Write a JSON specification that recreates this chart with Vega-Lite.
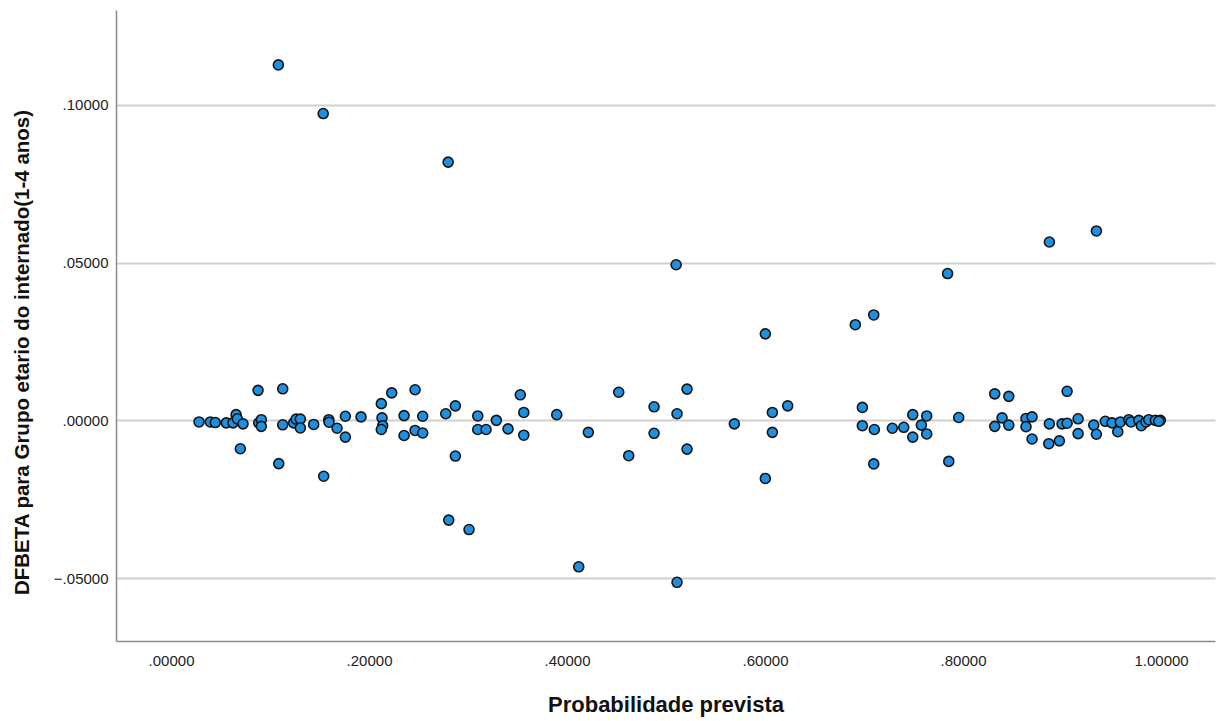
{
  "$schema": "https://vega.github.io/schema/vega-lite/v6.json",
  "width": 1099,
  "height": 631,
  "autosize": "none",
  "padding": {"left": 116, "top": 10, "right": 2, "bottom": 80},
  "background": "white",
  "config": {
    "view": {"stroke": null},
    "font": "Liberation Sans"
  },
  "data": {
    "values": [
      {"p": 0.0283, "d": -0.0005}, {"p": 0.0397, "d": -0.0005}, {"p": 0.0447, "d": -0.0007},
      {"p": 0.0558, "d": -0.0008}, {"p": 0.0626, "d": -0.0008}, {"p": 0.0657, "d": 0.0018},
      {"p": 0.067, "d": 0.0005}, {"p": 0.0727, "d": -0.0011}, {"p": 0.070, "d": -0.0090},
      {"p": 0.0879, "d": 0.0095}, {"p": 0.0886, "d": -0.0008}, {"p": 0.0912, "d": 0.0002},
      {"p": 0.0912, "d": -0.0019}, {"p": 0.1128, "d": 0.0100}, {"p": 0.1128, "d": -0.0014},
      {"p": 0.1088, "d": -0.0137}, {"p": 0.1239, "d": -0.0008}, {"p": 0.1263, "d": 0.0004},
      {"p": 0.1306, "d": 0.0004}, {"p": 0.1306, "d": -0.0024}, {"p": 0.1441, "d": -0.0013},
      {"p": 0.1542, "d": -0.0177}, {"p": 0.1593, "d": 0.0002}, {"p": 0.1596, "d": -0.0006},
      {"p": 0.1677, "d": -0.0025}, {"p": 0.1761, "d": 0.0013}, {"p": 0.1761, "d": -0.0053},
      {"p": 0.1919, "d": 0.0011}, {"p": 0.2124, "d": 0.0053}, {"p": 0.2131, "d": 0.0008},
      {"p": 0.2138, "d": -0.0017}, {"p": 0.2124, "d": -0.0029}, {"p": 0.2229, "d": 0.0087},
      {"p": 0.2354, "d": 0.0015}, {"p": 0.2465, "d": 0.0097}, {"p": 0.2542, "d": 0.0013},
      {"p": 0.2354, "d": -0.0048}, {"p": 0.2465, "d": -0.0032}, {"p": 0.2542, "d": -0.0040},
      {"p": 0.2775, "d": 0.0021}, {"p": 0.2872, "d": 0.0046}, {"p": 0.2872, "d": -0.0113},
      {"p": 0.2805, "d": -0.0316}, {"p": 0.3010, "d": -0.0346}, {"p": 0.3098, "d": 0.0014},
      {"p": 0.3098, "d": -0.0029}, {"p": 0.3182, "d": -0.0029}, {"p": 0.3286, "d": 0.0000},
      {"p": 0.3404, "d": -0.0027}, {"p": 0.3528, "d": 0.0081}, {"p": 0.3563, "d": 0.0025},
      {"p": 0.3563, "d": -0.0047}, {"p": 0.3896, "d": 0.0018}, {"p": 0.4215, "d": -0.0038},
      {"p": 0.4118, "d": -0.0464}, {"p": 0.4522, "d": 0.0089}, {"p": 0.4623, "d": -0.0112},
      {"p": 0.4879, "d": 0.0043}, {"p": 0.4879, "d": -0.0041},
      {"p": 0.1084, "d": 0.1126}, {"p": 0.1537, "d": 0.0972}, {"p": 0.2799, "d": 0.0818},
      {"p": 0.5102, "d": 0.0493}, {"p": 0.7844, "d": 0.0465}, {"p": 0.8872, "d": 0.0565},
      {"p": 0.9347, "d": 0.0600},
      {"p": 0.5111, "d": 0.0021}, {"p": 0.5212, "d": 0.0099}, {"p": 0.5212, "d": -0.0091},
      {"p": 0.5111, "d": -0.0513}, {"p": 0.5690, "d": -0.0011}, {"p": 0.6003, "d": 0.0274},
      {"p": 0.6003, "d": -0.0184}, {"p": 0.6074, "d": 0.0025}, {"p": 0.6074, "d": -0.0038},
      {"p": 0.6229, "d": 0.0046}, {"p": 0.6912, "d": 0.0303}, {"p": 0.7098, "d": 0.0334},
      {"p": 0.6983, "d": 0.0041}, {"p": 0.6983, "d": -0.0017}, {"p": 0.7104, "d": -0.0029},
      {"p": 0.7098, "d": -0.0138}, {"p": 0.7286, "d": -0.0025}, {"p": 0.7401, "d": -0.0022},
      {"p": 0.7492, "d": 0.0018}, {"p": 0.7492, "d": -0.0053}, {"p": 0.7579, "d": -0.0015},
      {"p": 0.7633, "d": 0.0014}, {"p": 0.7633, "d": -0.0043},
      {"p": 0.7856, "d": -0.0130}, {"p": 0.7956, "d": 0.0009}, {"p": 0.8320, "d": 0.0084},
      {"p": 0.8462, "d": 0.0076}, {"p": 0.8394, "d": 0.0008}, {"p": 0.8320, "d": -0.0019},
      {"p": 0.8462, "d": -0.0015}, {"p": 0.8636, "d": 0.0006}, {"p": 0.8697, "d": 0.0011},
      {"p": 0.8636, "d": -0.0020}, {"p": 0.8697, "d": -0.0059}, {"p": 0.9051, "d": 0.0092},
      {"p": 0.8872, "d": -0.0011}, {"p": 0.9000, "d": -0.0011}, {"p": 0.9051, "d": -0.0009},
      {"p": 0.8866, "d": -0.0074}, {"p": 0.8973, "d": -0.0065}, {"p": 0.9162, "d": 0.0005},
      {"p": 0.9162, "d": -0.0042}, {"p": 0.9320, "d": -0.0015}, {"p": 0.9347, "d": -0.0044},
      {"p": 0.9437, "d": -0.0003}, {"p": 0.9505, "d": -0.0008}, {"p": 0.9563, "d": -0.0036},
      {"p": 0.9589, "d": -0.0005}, {"p": 0.9674, "d": 0.0002}, {"p": 0.9697, "d": -0.0005},
      {"p": 0.9775, "d": 0.0000}, {"p": 0.9801, "d": -0.0017}, {"p": 0.9848, "d": -0.0005},
      {"p": 0.9876, "d": 0.0002}, {"p": 0.9942, "d": 0.0000}, {"p": 0.9993, "d": 0.0000},
      {"p": 0.9977, "d": -0.0003}
    ]
  },
  "mark": {
    "type": "point",
    "shape": "circle",
    "filled": true,
    "fill": "#1e90e2",
    "stroke": "#141414",
    "strokeWidth": 1.6,
    "size": 100,
    "opacity": 1,
    "clip": true
  },
  "encoding": {
    "x": {
      "field": "p",
      "type": "quantitative",
      "scale": {"domain": [-0.0556, 1.0545], "nice": false, "zero": false},
      "axis": {
        "title": "Probabilidade prevista",
        "values": [0, 0.2, 0.4, 0.6, 0.8, 1.0],
        "labelExpr": "replace(format(datum.value, '.5f'), '0.', '.')",
        "grid": false,
        "ticks": false,
        "domainColor": "#8c8c8c",
        "domainWidth": 1.5,
        "labelFont": "Liberation Sans",
        "labelFontSize": 15,
        "labelColor": "#222222",
        "labelPadding": 12,
        "titleFont": "Liberation Sans",
        "titleFontSize": 22,
        "titleFontWeight": "bold",
        "titleColor": "#111111",
        "titleY": 63,
        "titleBaseline": "middle"
      }
    },
    "y": {
      "field": "d",
      "type": "quantitative",
      "scale": {"domain": [-0.0699, 0.13], "nice": false, "zero": false},
      "axis": {
        "title": "DFBETA para Grupo etario do internado(1-4 anos)",
        "values": [-0.05, 0, 0.05, 0.10],
        "labelExpr": "replace(format(datum.value, '.5f'), '0.', '.')",
        "grid": true,
        "gridColor": "#cfcfcf",
        "gridWidth": 1.8,
        "ticks": false,
        "domainColor": "#8c8c8c",
        "domainWidth": 1.5,
        "labelFont": "Liberation Sans",
        "labelFontSize": 15,
        "labelColor": "#222222",
        "labelPadding": 8,
        "titleFont": "Liberation Sans",
        "titleFontSize": 20.5,
        "titleFontWeight": "bold",
        "titleColor": "#111111",
        "titleX": -94,
        "titleY": 342,
        "titleBaseline": "middle",
        "titleAlign": "center"
      }
    }
  }
}
